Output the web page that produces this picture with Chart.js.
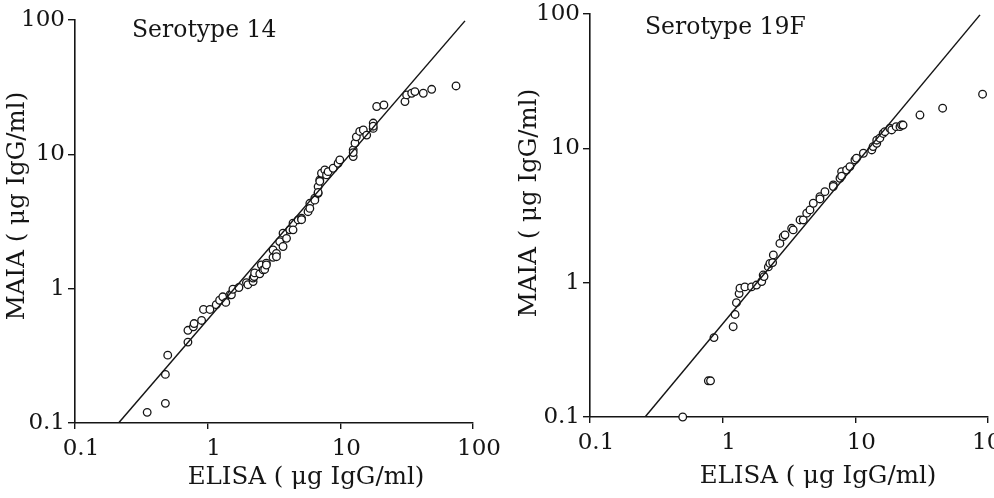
<!DOCTYPE html>
<html>
<head>
<meta charset="utf-8">
<script src="https://cdn.jsdelivr.net/npm/chart.js@4.4.1/dist/chart.umd.min.js"></script>
<style>
  html, body { margin: 0; padding: 0; background: #fff; }
  .panel { position: absolute; top: 0; height: 498px; }
</style>
</head>
<body>
<div class="panel" style="left:0"><canvas id="chart14" width="540" height="498"></canvas></div>
<div class="panel" style="left:497px"><canvas id="chart19F" width="497" height="498"></canvas></div>
<script>
// decade ticks shared by both panels
const tickValues = [0.1, 1, 10, 100];
const tickLabels = ['0.1', '1', '10', '100'];

const xTitle = 'ELISA ( μg IgG/ml)';
const yTitle = 'MAIA ( μg IgG/ml)';

// Serotype 14
const elisa14 = [0.35, 0.48, 0.48, 0.50, 0.71, 0.71, 0.78, 0.79, 0.90, 0.93, 1.04, 1.16, 1.23, 1.30, 1.37,
    1.47, 1.51, 1.55, 1.72, 1.96, 2.01, 2.20, 2.20, 2.24, 2.26, 2.47, 2.54, 2.62, 2.69, 2.77,
    2.77, 3.11, 3.11, 3.30, 3.30, 3.49, 3.70, 3.70, 3.93, 4.16, 4.40, 4.40, 4.81, 5.10, 5.10,
    5.71, 5.89, 5.89, 6.42, 6.42, 6.80, 6.80, 6.80, 7.00, 7.00, 7.21, 7.64, 7.87, 8.09, 8.83,
    9.62, 9.91, 12.5, 12.5, 12.5, 12.9, 13.2, 14.0, 14.9, 15.8, 17.7, 17.7, 17.7, 18.8, 21.3,
    30.7, 31.6, 34.5, 36.5, 42.2, 48.8, 74.5];
const maia14 = [0.12, 0.14, 0.23, 0.32, 0.40, 0.49, 0.52, 0.55, 0.58, 0.70, 0.70, 0.76, 0.82, 0.87, 0.79,
    0.90, 0.90, 0.99, 1.02, 1.11, 1.07, 1.13, 1.20, 1.23, 1.31, 1.29, 1.50, 1.38, 1.39, 1.55,
    1.50, 1.71, 1.94, 1.83, 1.73, 2.24, 2.59, 2.06, 2.37, 2.74, 3.07, 2.74, 3.25, 3.34, 3.26,
    3.74, 4.32, 3.96, 4.71, 4.56, 5.13, 5.75, 5.20, 6.45, 6.30, 7.23, 7.65, 7.03, 7.43, 7.88,
    8.58, 9.08, 9.62, 10.8, 10.3, 12.1, 13.5, 14.8, 15.2, 13.9, 15.6, 17.1, 16.2, 22.7, 23.3,
    24.7, 27.7, 28.5, 29.3, 28.5, 30.5, 32.3];
const fit14X = [0.213, 87];
const fit14Y = [0.1, 98.5];

// Serotype 19F
const elisa19F = [0.50, 0.78, 0.81, 0.86, 1.20, 1.24, 1.27, 1.33, 1.35, 1.47, 1.65, 1.80, 1.97, 2.02, 2.05,
    2.21, 2.27, 2.38, 2.41, 2.70, 2.86, 2.95, 3.31, 3.40, 3.83, 4.05, 4.30, 4.55, 4.82, 5.41,
    5.41, 5.90, 6.82, 6.82, 7.66, 7.88, 7.88, 8.59, 9.10, 9.93, 10.2, 11.5, 13.3, 13.6, 14.5,
    14.5, 15.3, 16.2, 16.7, 18.2, 18.8, 20.3, 21.7, 22.3, 22.9, 30.7, 45.5, 91.0];
const maia19F = [0.10, 0.186, 0.186, 0.39, 0.47, 0.58, 0.71, 0.83, 0.91, 0.93, 0.93, 0.96, 1.02, 1.14, 1.11,
    1.31, 1.39, 1.41, 1.61, 1.96, 2.20, 2.27, 2.54, 2.47, 2.93, 2.93, 3.29, 3.48, 3.90, 4.37,
    4.20, 4.76, 5.34, 5.20, 5.99, 6.71, 6.20, 6.90, 7.31, 8.20, 8.44, 9.19, 9.73, 10.3, 10.9,
    11.5, 11.9, 12.9, 13.3, 14.1, 13.7, 14.5, 14.5, 14.9, 14.9, 17.7, 19.9, 25.3];
const fit19X = [0.26, 87];
const fit19Y = [0.1, 98.5];

const ink = '#151515';
const tickFont = { family: 'DejaVu Serif', size: 23 };

const panelText = {
    id: 'panelText',
    afterDraw(chart, args, o) {
        const ctx = chart.ctx;
        ctx.save();
        ctx.fillStyle = ink;
        ctx.textBaseline = 'middle';
        ctx.textAlign = 'left';
        ctx.font = '23.5px "DejaVu Serif"';
        ctx.fillText(o.label, o.labelX, o.labelY);
        ctx.textAlign = 'center';
        ctx.font = '24.5px "DejaVu Serif"';
        ctx.fillText(xTitle, o.xTitleX, o.xTitleY);
        ctx.translate(o.yTitleX, o.yTitleY);
        ctx.rotate(-Math.PI / 2);
        ctx.fillText(yTitle, 0, 0);
        ctx.restore();
    }
};

function pairs(xs, ys) {
    return xs.map((x, i) => ({ x: x, y: ys[i] }));
}

function decadeTicks(scale) {
    scale.ticks = tickValues.map(v => ({ value: v }));
}

function makePanel(id, elisa, maia, fitX, fitY, text, box) {
    const ctx = document.getElementById(id).getContext('2d');
    return new Chart(ctx, {
        type: 'scatter',
        data: {
            datasets: [
                {
                    label: 'fit',
                    data: pairs(fitX, fitY),
                    showLine: true,
                    borderColor: ink,
                    borderWidth: 1.5,
                    pointRadius: 0,
                    fill: false
                },
                {
                    label: 'samples',
                    data: pairs(elisa, maia),
                    pointRadius: 3.8,
                    pointBorderWidth: 1.3,
                    pointBackgroundColor: '#fff',
                    pointBorderColor: ink,
                    clip: false
                }
            ]
        },
        options: {
            responsive: false,
            animation: false,
            layout: { padding: { left: 0, top: box.top, right: box.right, bottom: 0 } },
            plugins: {
                legend: { display: false },
                tooltip: { enabled: false },
                panelText: text
            },
            scales: {
                x: {
                    type: 'logarithmic',
                    min: 0.1,
                    max: 100,
                    afterBuildTicks: decadeTicks,
                    afterFit: (s) => { s.height = box.xHeight; s.paddingLeft = 0; s.paddingRight = 0; },
                    border: { display: true, color: ink, width: 1.6 },
                    grid: { drawOnChartArea: false, drawTicks: true, tickLength: 6, color: ink, lineWidth: 1.4 },
                    ticks: {
                        autoSkip: false,
                        maxRotation: 0,
                        padding: 6,
                        labelOffset: 6,
                        color: ink,
                        font: tickFont,
                        callback: (v) => tickLabels[tickValues.indexOf(v)]
                    }
                },
                y: {
                    type: 'logarithmic',
                    min: 0.1,
                    max: 100,
                    afterBuildTicks: decadeTicks,
                    afterFit: (s) => { s.width = box.yWidth; s.paddingTop = 0; s.paddingBottom = 0; },
                    border: { display: true, color: ink, width: 1.6 },
                    grid: { drawOnChartArea: false, drawTicks: true, tickLength: 7, color: ink, lineWidth: 1.4 },
                    ticks: {
                        autoSkip: false,
                        padding: 3,
                        color: ink,
                        font: tickFont,
                        callback: (v) => tickLabels[tickValues.indexOf(v)]
                    }
                }
            }
        },
        plugins: [panelText]
    });
}

makePanel('chart14', elisa14, maia14, fit14X, fit14Y,
    { label: 'Serotype 14', labelX: 132, labelY: 31, xTitleX: 306, xTitleY: 478, yTitleX: 18, yTitleY: 206 },
    { top: 20, right: 67, xHeight: 75, yWidth: 75 });

makePanel('chart19F', elisa19F, maia19F, fit19X, fit19Y,
    { label: 'Serotype 19F', labelX: 148, labelY: 28, xTitleX: 321, xTitleY: 477, yTitleX: 33, yTitleY: 203 },
    { top: 14, right: 6, xHeight: 81, yWidth: 93 });
</script>
</body>
</html>
